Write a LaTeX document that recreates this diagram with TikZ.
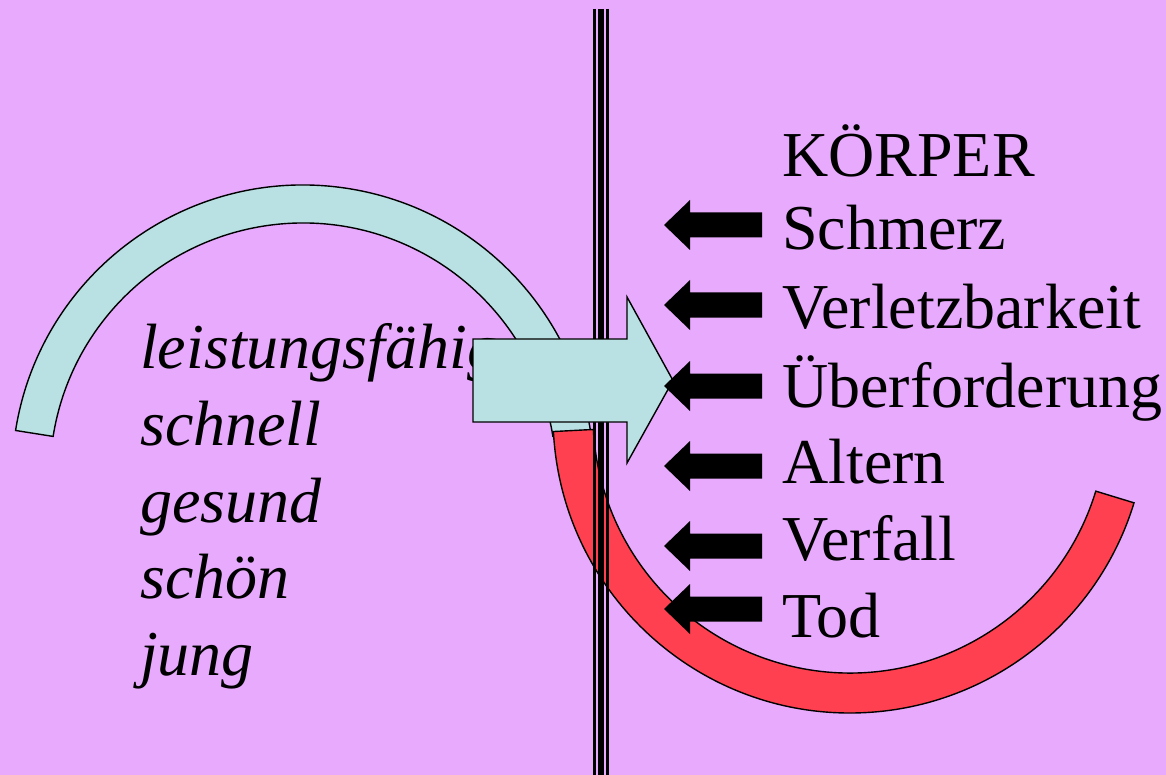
\documentclass[tikz,border=0pt]{standalone}
\usepackage{fontspec}
\setmainfont{Liberation Serif}
\definecolor{bgc}{RGB}{231,170,252}
\definecolor{cyanc}{RGB}{185,224,226}
\definecolor{redc}{RGB}{255,64,80}
\begin{document}
\begin{tikzpicture}[x=1pt,y=-1pt,
  ring/.style={draw=black,line width=1.4pt},
  bigtext/.style={font=\fontsize{64}{77}\selectfont,anchor=base west,inner sep=0pt},
  ittext/.style={font=\fontsize{64}{77}\selectfont\itshape,anchor=base west,inner sep=0pt},
  smallarrow/.style={fill=black}]
\useasboundingbox (0,0) rectangle (1166,775);
\fill[bgc] (0,0) rectangle (1166,775);
% cyan upper arc
\draw[ring,fill=cyanc] ([shift={(303,476)}]189:291) arc[start angle=189,end angle=351,radius=291]
  -- ([shift={(303,476)}]351:253) arc[start angle=351,end angle=189,radius=253] -- cycle;
% red lower arc
\draw[ring,fill=redc] ([shift={(850,416)}]177:297) arc[start angle=177,end angle=17,radius=297]
  -- ([shift={(850,416)}]17:257) arc[start angle=17,end angle=177,radius=257] -- cycle;
% triple vertical line
\draw[line width=2.8pt] (594.7,9) -- (594.7,775);
\draw[line width=5.7pt] (601.2,9) -- (601.2,775);
\draw[line width=3pt] (607.5,9) -- (607.5,775);
% left text
\node[ittext] (t1) at (140,368) {leistungsfähig};
\node[ittext] (t2) at (140,445) {schnell};
\node[ittext] (t3) at (140,522) {gesund};
\node[ittext] (t4) at (140,598) {schön};
\node[ittext] (t5) at (140,675) {jung};
% big arrow
\draw[ring,fill=cyanc] (473,339) -- (627,339) -- (627,297) -- (673,380.5) -- (627,463) -- (627,422) -- (473,422) -- cycle;
% small arrows
\foreach \yy in {225,305,386,466,546,609}{
  \fill[smallarrow] (664,\yy) -- (690,\yy-25) -- (690,\yy-12.5) -- (762,\yy-12.5) -- (762,\yy+12.5) -- (690,\yy+12.5) -- (690,\yy+25) -- cycle;
}
% right text
\node[bigtext] (k) at (782,177) {KÖRPER};
\node[bigtext] (r1) at (782,250) {Schmerz};
\node[bigtext] (r2) at (782,328) {Verletzbarkeit};
\node[bigtext] (r3) at (782,407) {Überforderung};
\node[bigtext] (r4) at (782,483) {Altern};
\node[bigtext] (r5) at (782,560) {Verfall};
\node[bigtext] (r6) at (782,637) {Tod};
\end{tikzpicture}
\end{document}
